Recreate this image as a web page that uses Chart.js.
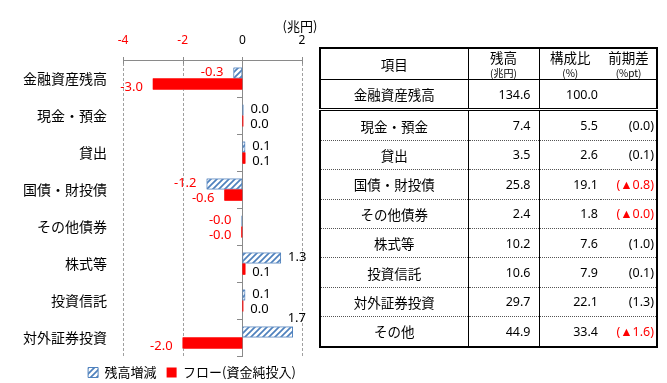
<!DOCTYPE html>
<html><head><meta charset="utf-8">
<script src="https://cdn.jsdelivr.net/npm/chart.js@4"></script>
<style>
html,body{margin:0;padding:0;background:#fff;width:667px;height:383px;overflow:hidden;font-family:"Noto Sans CJK JP",sans-serif;}
#wrap{position:absolute;left:0;top:0;width:384px;height:389px;}
#tbl{position:absolute;left:319px;top:47px;width:337px;border-collapse:collapse;border:2px solid #000;table-layout:fixed;color:#000;font-family:"Noto Sans CJK JP",sans-serif;}
#tbl td{padding:0;height:28.4px;border-bottom:1px dotted #555;vertical-align:middle;white-space:nowrap;}
#tbl td.c1{text-align:center;font-size:13.5px;border-right:1px solid #000;}
#tbl td.c2{text-align:right;padding-right:8px;font-size:12.5px;border-right:1px solid #000;font-family:"Noto Sans",sans-serif;}
#tbl td.c3{text-align:right;padding-right:3px;font-size:12.5px;font-family:"Noto Sans",sans-serif;}
#tbl td.c4{text-align:right;padding-right:2px;font-size:12.5px;font-family:"Noto Sans",sans-serif;}
#tbl tr.hd td{height:30px;border-bottom:1px solid #000;text-align:center;padding:0;line-height:1.05;font-family:"Noto Sans CJK JP",sans-serif;font-size:13.5px;}
#tbl tr.hd small{font-size:10px;}
#tbl tr.tot td{border-bottom:3px double #000;}
.neg{color:#ff0000;}
</style>
</head><body>
<div id="wrap"><canvas id="c"></canvas></div>
<table id="tbl"><colgroup><col style="width:148px"><col style="width:71px"><col style="width:62px"><col style="width:56px"></colgroup><tbody id="tb"></tbody></table>
<script>
// ---- chart data ----
const categories = ['金融資産残高','現金・預金','貸出','国債・財投債','その他債券','株式等','投資信託','対外証券投資'];
const balanceChange = [-0.3, 0.04, 0.1, -1.2, -0.03, 1.3, 0.1, 1.7];
const flowNet = [-3.0, 0.03, 0.1, -0.6, -0.03, 0.1, 0.03, -2.0];
const seriesNames = ['残高増減','フロー(資金純投入)'];
const xTicks = [-4, -2, 0, 2];
const unitLabel = '(兆円)';

// ---- table data ----
const tableHeader = ['項目','残高','構成比','前期差'];
const tableHeaderUnits = ['','(兆円)','(%)','(%pt)'];
const tableItems = ['金融資産残高','現金・預金','貸出','国債・財投債','その他債券','株式等','投資信託','対外証券投資','その他'];
const tableBalance = ['134.6','7.4','3.5','25.8','2.4','10.2','10.6','29.7','44.9'];
const tableShare = ['100.0','5.5','2.6','19.1','1.8','7.6','7.9','22.1','33.4'];
const tableDiff = ['','(0.0)','(0.1)','(▲0.8)','(▲0.0)','(1.0)','(0.1)','(1.3)','(▲1.6)'];

// build table
(function(){
  const tb = document.getElementById('tb');
  let h = '<tr class="hd">';
  for (let i=0;i<4;i++){
    const cls = i<2 ? (' class="c'+(i+1)+'"') : '';
    h += '<td'+cls+'>'+tableHeader[i]+(tableHeaderUnits[i]?'<br><small>'+tableHeaderUnits[i]+'</small>':'')+'</td>';
  }
  h += '</tr>';
  tableItems.forEach((it,i)=>{
    const d = tableDiff[i];
    h += '<tr'+(i===0?' class="tot"':'')+'><td class="c1">'+it+'</td><td class="c2">'+tableBalance[i]+'</td><td class="c3">'+tableShare[i]+'</td><td class="c4'+(d.indexOf('▲')>=0?' neg':'')+'">'+d+'</td></tr>';
  });
  tb.innerHTML = h;
})();

function makeHatch(){
  const c = document.createElement('canvas'); c.width=6; c.height=6;
  const g = c.getContext('2d');
  g.fillStyle='#ffffff'; g.fillRect(0,0,6,6);
  g.strokeStyle='#4f81bd'; g.lineWidth=1.7;
  g.beginPath();
  g.moveTo(0,6); g.lineTo(6,0);
  g.moveTo(-3,3); g.lineTo(3,-3);
  g.moveTo(3,9); g.lineTo(9,3);
  g.stroke();
  return document.getElementById('c').getContext('2d').createPattern(c,'repeat');
}

// axis / grid lines drawn as 1px filled rectangles
function drawAxisLines(chart){
  const ctx = chart.ctx, a = chart.chartArea, x = chart.scales.x;
  const x0 = Math.round(x.getPixelForValue(0));
  const yTop = Math.round(a.top);
  const yBot = Math.round(a.bottom);
  ctx.save();
  ctx.globalAlpha = 1;
  ctx.globalCompositeOperation = 'source-over';
  ctx.fillStyle='#a0a0a0';
  xTicks.forEach(v=>{
    if (v === 0) return;
    const px = Math.round(x.getPixelForValue(v));
    for (let yy = yTop+3; yy < yBot; yy += 5) ctx.fillRect(px, yy, 1, Math.min(3, yBot-yy));
  });
  ctx.fillStyle='#8a8a8a';
  ctx.fillRect(Math.round(a.left), yTop, Math.round(a.right-a.left)+1, 1);
  xTicks.forEach(v=>{
    const px = Math.round(x.getPixelForValue(v));
    ctx.fillRect(px, yTop-3, 1, 7);
  });
  ctx.fillRect(x0, yTop, 1, yBot-yTop+1);
  const n = categories.length, step = (a.bottom-a.top)/n;
  for(let i=1;i<=n;i++){
    const yy = Math.round(a.top + i*step);
    ctx.fillRect(x0-5, yy, 5, 1);
  }
  ctx.restore();
}

const axisDecor = {
  id:'axisDecor',
  afterDatasetsDraw(chart){
    const ctx = chart.ctx, a = chart.chartArea;
    // lines first, then redraw the bar elements on top of them
    drawAxisLines(chart);
    chart.data.datasets.forEach((ds,di)=>{
      chart.getDatasetMeta(di).data.forEach(el => el.draw(ctx, a));
    });
    ctx.save();
    ctx.font='13px "Noto Sans", sans-serif';
    ctx.textBaseline='middle';
    chart.data.datasets.forEach((ds,di)=>{
      const meta = chart.getDatasetMeta(di);
      meta.data.forEach((el,i)=>{
        const v = ds.data[i];
        const txt = v.toFixed(1);
        const w = ctx.measureText(txt).width;
        let xx, yy = el.y + (di===0 ? -1 : 3), align;
        if (v < 0){ xx = el.x - 10; align='right'; }
        else {
          xx = el.x + 7; align='left';
          if (xx + w > a.right + 6){ xx = a.right + 4; align='right'; yy = el.y - 14; }
        }
        ctx.fillStyle = v < 0 ? '#ff0000' : '#000000';
        ctx.textAlign = align;
        ctx.fillText(txt, xx, yy);
      });
    });
    const xs = chart.scales.x;
    ctx.font='13px "Noto Sans CJK JP", sans-serif';
    ctx.fillStyle='#000'; ctx.textAlign='center';
    ctx.fillText(unitLabel, xs.getPixelForValue(2)-2, a.top-34);
    ctx.restore();
  }
};

const chart = new Chart(document.getElementById('c'), {
  type:'bar',
  data:{
    labels: categories,
    datasets:[
      {label: seriesNames[0], data: balanceChange, backgroundColor: makeHatch(), borderColor:'#4f81bd', borderWidth:1, borderSkipped:false, categoryPercentage:0.6, barPercentage:1.0},
      {label: seriesNames[1], data: flowNet, backgroundColor:'#ff0000', borderWidth:0, categoryPercentage:0.6, barPercentage:1.0}
    ]
  },
  options:{
    indexAxis:'y',
    responsive:true, maintainAspectRatio:false, animation:false,
    layout:{padding:{left:0,right:0,top:0,bottom:0}},
    plugins:{
      tooltip:{enabled:false},
      legend:{position:'bottom', labels:{boxWidth:10, boxHeight:10, padding:10, color:'#000', font:{size:13, family:'"Noto Sans CJK JP", sans-serif'}}}
    },
    scales:{
      x:{
        position:'top', min:-4, max:2,
        afterBuildTicks: s => { s.ticks = xTicks.map(v=>({value:v})); },
        afterFit: s => { s.height = 60; },
        ticks:{padding:12, color: c => (c.tick && c.tick.value < 0) ? '#ff0000' : '#000000', font:{size:12, family:'"Noto Sans", sans-serif'}},
        grid:{display:false, drawOnChartArea:false, drawTicks:false},
        border:{display:false}
      },
      y:{
        afterFit: s => { s.width = 123; },
        ticks:{padding:16, color:'#000', font:{size:14, family:'"Noto Sans CJK JP", sans-serif'}},
        grid:{display:false, drawTicks:false},
        border:{display:false}
      },
      yPad:{
        type:'category', position:'right', axis:'y', labels:[''],
        afterFit: s => { s.width = 82; },
        ticks:{display:false}, grid:{display:false, drawTicks:false}, border:{display:false}
      }
    }
  },
  plugins:[axisDecor]
});
</script>
</body></html>
